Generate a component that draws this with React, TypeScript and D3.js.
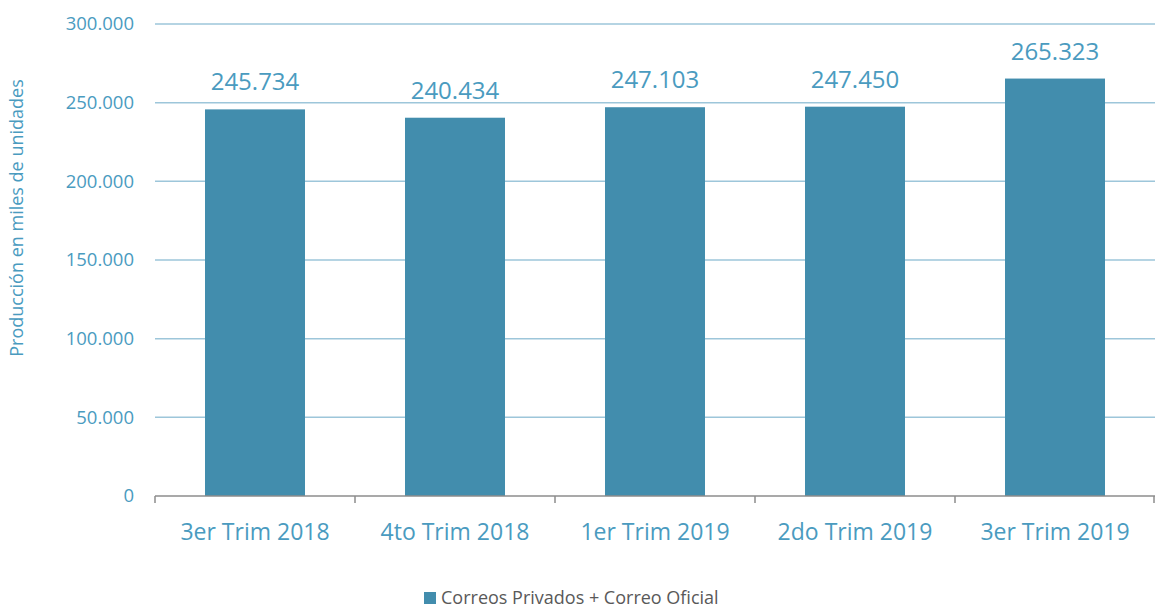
import React from 'react'
import * as d3 from 'd3'

const categories = ['3er Trim 2018', '4to Trim 2018', '1er Trim 2019', '2do Trim 2019', '3er Trim 2019']
const values = [245734, 240434, 247103, 247450, 265323]
const yTicks = [0, 50000, 100000, 150000, 200000, 250000, 300000]
const seriesName = 'Correos Privados + Correo Oficial'

const W = 1155
const H = 611
const m = { left: 155, right: 0, top: 24, bottom: 115 }
const barColor = '#428DAD'
const textColor = '#4A9BBF'

const fmt = (v: number) => (v === 0 ? '0' : d3.format(',')(v).replace(/,/g, '.'))

export default function App() {
  const x = d3.scaleBand().domain(categories).range([m.left, W - m.right]).paddingInner(0.5).paddingOuter(0.25)
  const y = d3.scaleLinear().domain([0, 300000]).range([H - m.bottom, m.top])
  const bandStep = x.step()
  const font = '"Open Sans", sans-serif'

  return (
    <svg width={W} height={H} style={{ position: 'absolute', left: 0, top: 0, fontFamily: font }}>
      {/* grid */}
      {yTicks.filter(t => t > 0).map(t => (
        <line key={t} x1={m.left} x2={W} y1={y(t)} y2={y(t)} stroke="#9DC6DA" strokeWidth={1.5} />
      ))}
      {yTicks.map(t => (
        <text key={'l' + t} x={134} y={y(t)} dy="0.35em" textAnchor="end" fontSize={18.5} fill={textColor}>{fmt(t)}</text>
      ))}
      {/* bars */}
      {values.map((v, i) => (
        <g key={i}>
          <rect x={x(categories[i])} y={y(v)} width={x.bandwidth()} height={y(0) - y(v)} fill={barColor} />
          <text x={x(categories[i])! + x.bandwidth() / 2} y={y(v) - 19} textAnchor="middle" fontSize={24} fill={textColor}>{fmt(v)}</text>
        </g>
      ))}
      {/* x axis */}
      <line x1={m.left} x2={W} y1={y(0)} y2={y(0)} stroke="#8C8C8C" strokeWidth={1.5} />
      {d3.range(categories.length + 1).map(i => {
        const tx = Math.min(m.left + i * bandStep, W - 1)
        return <line key={'t' + i} x1={tx} x2={tx} y1={y(0)} y2={y(0) + 7} stroke="#8C8C8C" strokeWidth={1.5} />
      })}
      {categories.map(c => (
        <text key={c} x={x(c)! + x.bandwidth() / 2} y={540} textAnchor="middle" fontSize={23} fill={textColor}>{c}</text>
      ))}
      {/* y title */}
      <text transform={`translate(23, 218) rotate(-90)`} textAnchor="middle" fontSize={18} fill={textColor}>Producción en miles de unidades</text>
      {/* legend */}
      <rect x={424} y={592} width={12} height={12} fill={barColor} />
      <text x={441} y={598} dy="0.35em" fontSize={18} fill="#595959">{seriesName}</text>
    </svg>
  )
}
